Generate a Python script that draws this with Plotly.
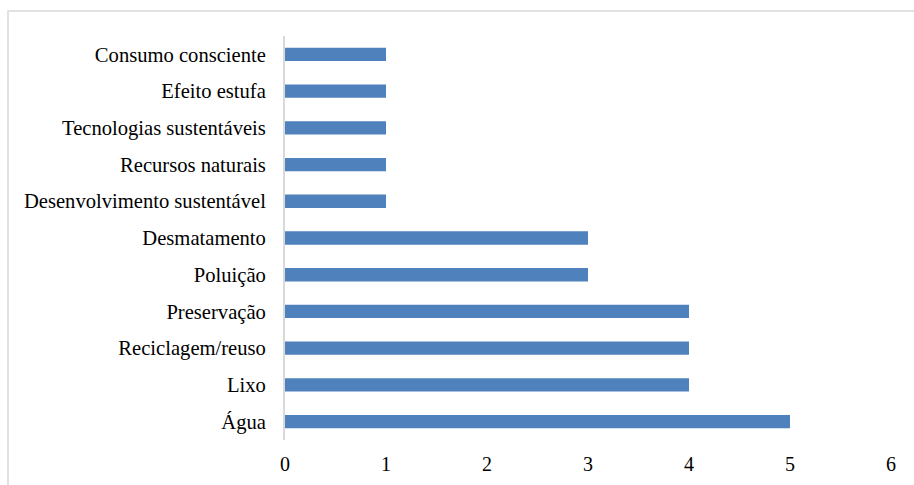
import plotly.graph_objects as go

# Themes cited, bottom to top
temas = [
    "Água",
    "Lixo",
    "Reciclagem/reuso",
    "Preservação",
    "Poluição",
    "Desmatamento",
    "Desenvolvimento sustentável",
    "Recursos naturais",
    "Tecnologias sustentáveis",
    "Efeito estufa",
    "Consumo consciente",
]
frequencia = [5, 4, 4, 4, 3, 3, 1, 1, 1, 1, 1]
x_ticks = [0, 1, 2, 3, 4, 5, 6]

W, H = 914, 485
L, R, T, B = 285, 23, 36, 45
pw, ph = W - L - R, H - T - B

fig = go.Figure(
    go.Bar(
        x=frequencia,
        y=temas,
        orientation="h",
        marker=dict(color="#4F81BD", line=dict(width=0)),
    )
)

font = dict(family="Liberation Serif", size=20, color="#000000")
yfont = dict(family="Liberation Serif", size=20.6, color="#000000")

fig.update_layout(
    template="none",
    width=W,
    height=H,
    margin=dict(l=L, r=R, t=T, b=B, autoexpand=False),
    paper_bgcolor="white",
    plot_bgcolor="white",
    bargap=0.637,
    showlegend=False,
    font=font,
    xaxis=dict(
        range=[0, 6],
        tickvals=x_ticks,
        showgrid=False,
        zeroline=False,
        showline=False,
        automargin=False,
        ticks="",
        ticklabelstandoff=10,
        tickfont=font,
    ),
    yaxis=dict(
        type="category",
        categoryorder="array",
        categoryarray=temas,
        showgrid=False,
        zeroline=False,
        showline=True,
        automargin=False,
        linecolor="#d9d9d9",
        linewidth=2,
        ticks="",
        ticklabelstandoff=13,
        tickfont=yfont,
    ),
)

# Outer chart frame (left and top edges visible)
def px_to_paper_x(px):
    return (px - L) / pw

def px_to_paper_y(py):
    return (H - B - py) / ph

fig.add_shape(
    type="path",
    xref="paper",
    yref="paper",
    path=(
        f"M {px_to_paper_x(8)},{px_to_paper_y(495)} "
        f"L {px_to_paper_x(8)},{px_to_paper_y(11)} "
        f"L {px_to_paper_x(925)},{px_to_paper_y(11)}"
    ),
    line=dict(color="#d9d9d9", width=1.5),
    layer="below",
)

fig.write_html("out.html")
